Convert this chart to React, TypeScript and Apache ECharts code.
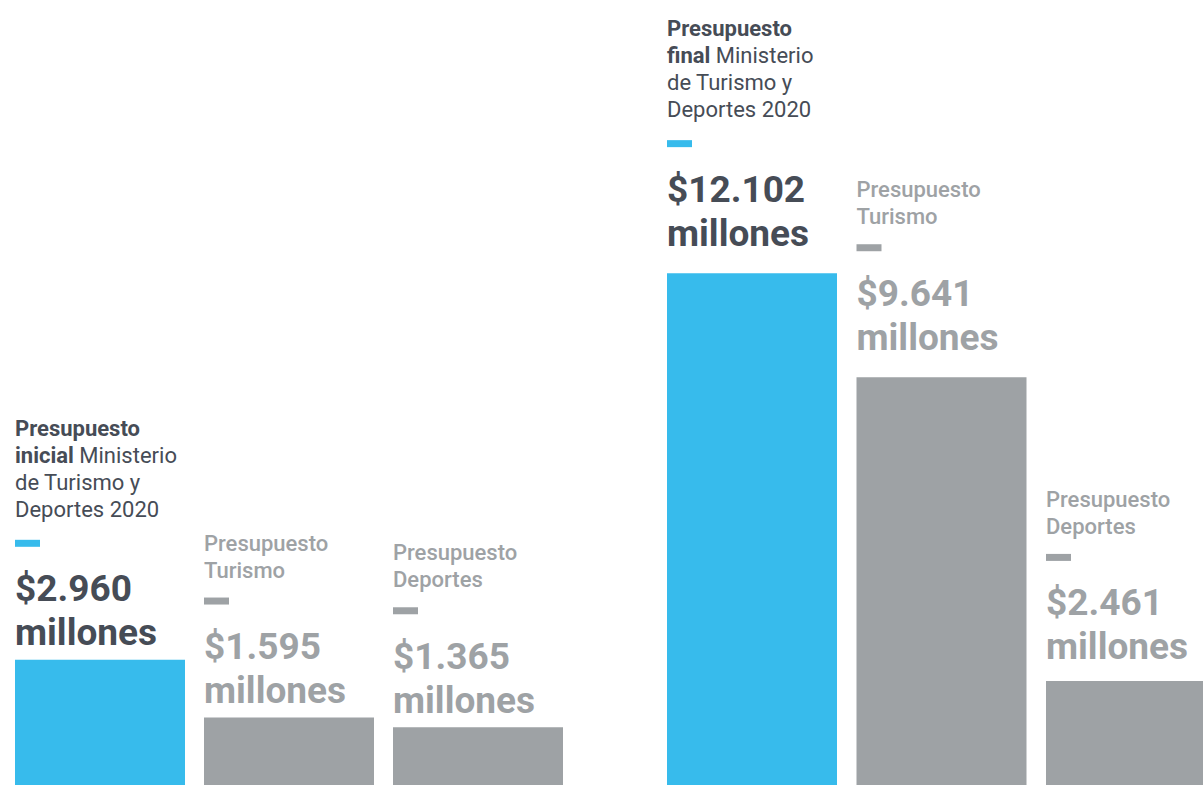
import React, { useEffect, useRef } from "react";
import * as echarts from "echarts";

// ---- data ----
const stages = ["inicial", "final"];
const categories = ["Ministerio de Turismo y Deportes 2020", "Turismo", "Deportes"];
const inicialValues = [2960, 1595, 1365];
const finalValues = [12102, 9641, 2461];
const unitLabel = "millones";

// ---- style ----
const BLUE = "#37bbec";
const GRAY = "#9ea2a5";
const DARK = "#464c56";
const GRAY_TEXT = "#9ea2a5";
const FONT = "Roboto, 'Noto Sans', sans-serif";
const LABEL_GAPS = [
  [5, 5, 5],
  [18, 18, 12],
];

function fmt(v: number): string {
  return String(v).replace(/\B(?=(\d{3})+(?!\d))/g, ".");
}

function makeLabel(stage: string) {
  return (p: any) => {
    const v = fmt(p.value);
    if (p.dataIndex === 0) {
      return [
        "{b|Presupuesto}",
        `{b|${stage}} {r|Ministerio}`,
        "{r|de Turismo y}",
        "{r|Deportes 2020}",
        "{dashB| }",
        "{spB| }",
        `{v|$${v}}`,
        `{v|${unitLabel}}`,
      ].join("\n");
    }
    return [
      "{g|Presupuesto}",
      `{g|${p.name}}`,
      "{dashG| }",
      "{spG| }",
      `{gv|$${v}}`,
      `{gv|${unitLabel}}`,
    ].join("\n");
  };
}

const rich = {
  b: { fontFamily: FONT, fontSize: 22, fontWeight: 700, color: DARK, lineHeight: 27 },
  r: { fontFamily: FONT, fontSize: 22, fontWeight: 400, color: DARK, lineHeight: 27 },
  g: { fontFamily: FONT, fontSize: 22, fontWeight: 500, color: GRAY_TEXT, lineHeight: 27 },
  dashB: { width: 25, height: 7, backgroundColor: BLUE, lineHeight: 41, fontSize: 1 },
  dashG: { width: 25, height: 7, backgroundColor: GRAY, lineHeight: 35, fontSize: 1 },
  spB: { lineHeight: 3, height: 3, fontSize: 1 },
  spG: { lineHeight: 6, height: 6, fontSize: 1 },
  v: { fontFamily: FONT, fontSize: 37, fontWeight: 700, color: DARK, lineHeight: 44 },
  gv: { fontFamily: FONT, fontSize: 37, fontWeight: 700, color: GRAY_TEXT, lineHeight: 44 },
};

const Y_MAX = 18560;

export default function App() {
  const ref = useRef<HTMLDivElement>(null);
  useEffect(() => {
    if (!ref.current) return;
    const chart = echarts.init(ref.current, undefined, { renderer: "svg" });
    const mkSeries = (idx: number, values: number[]) => ({
      type: "bar",
      xAxisIndex: idx,
      yAxisIndex: idx,
      barWidth: 170,
      data: values.map((v, i) => ({
        value: v,
        name: categories[i],
        label: { position: [0, -LABEL_GAPS[idx][i]] },
      })),
      itemStyle: {
        color: (p: any) => (p.dataIndex === 0 ? BLUE : GRAY),
      },
      label: {
        show: true,
        align: "left",
        verticalAlign: "bottom",
        fontSize: 22,
        fontFamily: FONT,
        color: DARK,
        formatter: makeLabel(stages[idx]),
        rich,
      },
    });
    chart.setOption({
      animation: false,
      backgroundColor: "#ffffff",
      grid: [
        { left: 5.5, width: 567, top: 0, bottom: 0 },
        { left: 657.25, width: 568.5, top: 0, bottom: 0 },
      ],
      xAxis: [0, 1].map((i) => ({
        type: "category",
        gridIndex: i,
        data: categories,
        show: false,
      })),
      yAxis: [0, 1].map((i) => ({
        type: "value",
        gridIndex: i,
        min: 0,
        max: Y_MAX,
        show: false,
        splitLine: { show: false },
      })),
      series: [mkSeries(0, inicialValues), mkSeries(1, finalValues)],
    });
    return () => chart.dispose();
  }, []);
  return (
    <div
      style={{
        position: "absolute",
        left: 0,
        top: 0,
        width: 1203,
        height: 785,
        overflow: "hidden",
        background: "#ffffff",
      }}
    >
      <div ref={ref} style={{ width: 1240, height: 785 }} />
    </div>
  );
}
